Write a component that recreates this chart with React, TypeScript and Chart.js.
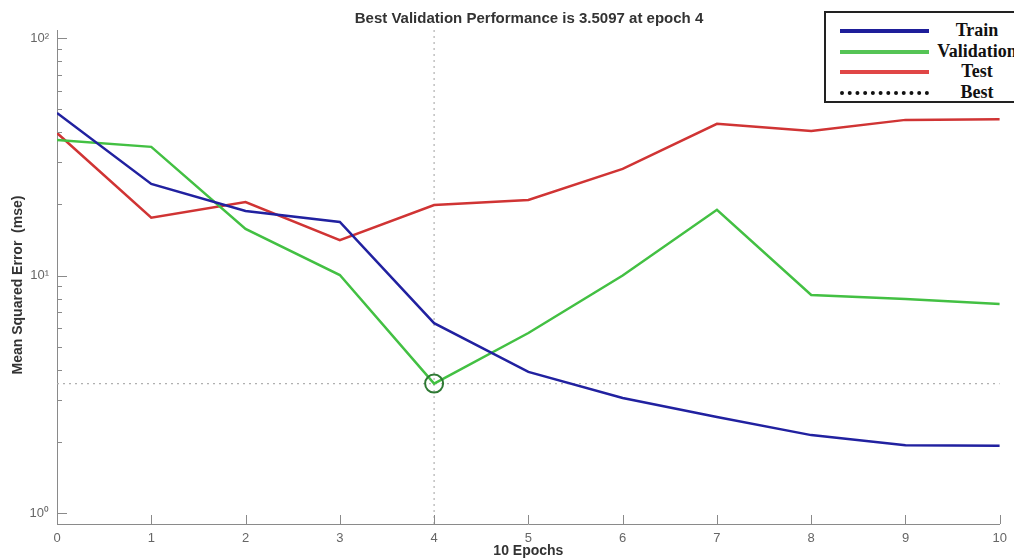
import React, { useEffect, useRef } from "react";
import { Chart, registerables } from "chart.js";

Chart.register(...registerables);

const epochs = [0, 1, 2, 3, 4, 5, 6, 7, 8, 9, 10];
const trainMse = [48.3, 24.3, 18.7, 16.8, 6.3, 3.93, 3.05, 2.54, 2.13, 1.93, 1.92];
const validationMse = [37.2, 34.8, 15.7, 10.05, 3.5097, 5.73, 10.0, 18.9, 8.28, 7.96, 7.59];
const testMse = [39.8, 17.5, 20.4, 14.1, 19.8, 20.8, 28.1, 43.5, 40.6, 45.2, 45.5];
const bestEpoch = 4;
const bestPerf = 3.5097;
const yMin = 0.9;
const yMax = 108;
const legendLabels = ["Train", "Validation", "Test", "Best"];
const titleText = "Best Validation Performance is 3.5097 at epoch 4";
const yTitleText = "Mean Squared Error  (mse)";

const AXIS_COLOR = "#8a8a8a";

const innerTicks = {
  id: "innerTicks",
  afterDraw(chart: any) {
    const { ctx, chartArea, scales } = chart;
    const ys = scales.y;
    const xs = scales.x;
    ctx.save();
    ctx.strokeStyle = AXIS_COLOR;
    ctx.lineWidth = 1;
    const decades = [0.1, 1, 10, 100];
    for (const d of decades) {
      for (let k = 1; k <= 9; k++) {
        const v = k * d;
        if (v < yMin || v > yMax) continue;
        const py = Math.round(ys.getPixelForValue(v)) + 0.5;
        const len = k === 1 ? 10 : 5;
        ctx.beginPath();
        ctx.moveTo(chartArea.left, py);
        ctx.lineTo(chartArea.left + len, py);
        ctx.stroke();
      }
    }
    for (const e of epochs) {
      const px = Math.round(xs.getPixelForValue(e)) + 0.5;
      ctx.beginPath();
      ctx.moveTo(px, chartArea.bottom);
      ctx.lineTo(px, chartArea.bottom - 9);
      ctx.stroke();
    }
    ctx.restore();
  },
};

function toPts(vals: number[]) {
  return epochs.map((e, i) => ({ x: e, y: vals[i] }));
}

export default function App() {
  const ref = useRef<HTMLCanvasElement | null>(null);

  useEffect(() => {
    if (!ref.current) return;
    const chart = new Chart(ref.current, {
      type: "line",
      data: {
        datasets: [
          {
            label: "BestCircle",
            data: [{ x: bestEpoch, y: bestPerf }],
            showLine: false,
            pointRadius: 9,
            pointBorderWidth: 2,
            pointBorderColor: "#2f7a34",
            pointBackgroundColor: "rgba(0,0,0,0)",
            order: 0,
          },
          {
            label: "Train",
            data: toPts(trainMse),
            borderColor: "#2121a0",
            borderWidth: 2.5,
            pointRadius: 0,
            order: 1,
          },
          {
            label: "Validation",
            data: toPts(validationMse),
            borderColor: "#43c043",
            borderWidth: 2.5,
            pointRadius: 0,
            order: 2,
          },
          {
            label: "Test",
            data: toPts(testMse),
            borderColor: "#d03434",
            borderWidth: 2.5,
            pointRadius: 0,
            order: 3,
          },
          {
            label: "BestV",
            data: [
              { x: bestEpoch, y: yMin },
              { x: bestEpoch, y: yMax },
            ],
            borderColor: "#b0b0b0",
            borderWidth: 1.2,
            borderDash: [2, 4],
            pointRadius: 0,
            order: 4,
          },
          {
            label: "BestH",
            data: [
              { x: 0, y: bestPerf },
              { x: 10, y: bestPerf },
            ],
            borderColor: "#b0b0b0",
            borderWidth: 1.2,
            borderDash: [2, 4],
            pointRadius: 0,
            order: 5,
          },
        ],
      },
      options: {
        responsive: false,
        animation: false,
        layout: { padding: { top: 30, right: 13, left: 0, bottom: 0 } },
        plugins: {
          legend: { display: false },
          title: { display: false },
          tooltip: { enabled: false },
        },
        scales: {
          x: {
            type: "linear",
            min: 0,
            max: 10,
            grid: { display: false, drawTicks: false },
            border: { display: true, color: AXIS_COLOR, width: 1 },
            ticks: {
              stepSize: 1,
              autoSkip: false,
              padding: 7,
              color: "#666",
              font: { family: "'Liberation Sans', Arial, sans-serif", size: 13 },
            },
            title: {
              display: true,
              text: "10 Epochs",
              color: "#333",
              padding: { top: 0, bottom: 0 },
              font: { family: "'Liberation Sans', Arial, sans-serif", size: 14, weight: "bold" },
            },
            afterFit(scale: any) {
              scale.height = 36;
            },
          },
          y: {
            type: "logarithmic",
            min: yMin,
            max: yMax,
            grid: { display: false, drawTicks: false },
            border: { display: true, color: AXIS_COLOR, width: 1 },
            ticks: {
              autoSkip: false,
              padding: 8,
              color: "#666",
              font: { family: "'Liberation Sans', Arial, sans-serif", size: 13 },
              callback: (v: any) => {
                const n = Number(v);
                const l = Math.log10(n);
                if (Math.abs(l - Math.round(l)) < 1e-9) {
                  const p = Math.round(l);
                  const sup = p === 0 ? "\u2070" : p === 1 ? "\u00b9" : p === 2 ? "\u00b2" : String(p);
                  return "10" + sup;
                }
                return "";
              },
            },
            afterFit(scale: any) {
              scale.width = 57;
            },
          },
        },
      },
      plugins: [innerTicks],
    } as any);
    return () => chart.destroy();
  }, []);

  const legendColors = ["#1e1e9a", "#55c455", "#e04646"];

  return (
    <div
      style={{
        position: "fixed",
        left: 0,
        top: 0,
        width: 1014,
        height: 560,
        overflow: "hidden",
        background: "#fff",
      }}
    >
      <canvas ref={ref} width={1014} height={560} style={{ position: "absolute", left: 0, top: 0 }} />
      <div
        style={{
          position: "absolute",
          left: 57,
          width: 944,
          top: 9,
          textAlign: "center",
          fontFamily: "'Liberation Sans', Arial, sans-serif",
          fontWeight: "bold",
          fontSize: 15,
          color: "#333",
          lineHeight: "18px",
        }}
      >
        {titleText}
      </div>
      <div
        style={{
          position: "absolute",
          left: 17 - 150,
          top: 285 - 9,
          width: 300,
          height: 18,
          lineHeight: "18px",
          textAlign: "center",
          transform: "rotate(-90deg)",
          transformOrigin: "150px 9px",
          fontFamily: "'Liberation Sans', Arial, sans-serif",
          fontWeight: "bold",
          fontSize: 14,
          color: "#333",
          whiteSpace: "pre",
        }}
      >
        {yTitleText}
      </div>
      <div
        style={{
          position: "absolute",
          left: 824,
          top: 11,
          width: 220,
          height: 92,
          border: "2px solid #222",
          background: "#fff",
          boxSizing: "border-box",
        }}
      >
        {legendLabels.map((lab, i) => (
          <div
            key={lab}
            style={{
              position: "absolute",
              left: 0,
              top: 8 + i * 20.5,
              height: 20,
              width: 220,
            }}
          >
            <div
              style={{
                position: "absolute",
                left: 14,
                width: 89,
                top: 8,
                height: 0,
                borderTop: i < 3 ? `4px solid ${legendColors[i]}` : "4px dotted #111",
              }}
            />
            <div
              style={{
                position: "absolute",
                left: 110,
                width: 82,
                top: -2,
                textAlign: "center",
                whiteSpace: "nowrap",
                fontFamily: "'Liberation Serif', 'Times New Roman', serif",
                fontWeight: "bold",
                fontSize: 18,
                color: "#111",
                lineHeight: "22px",
              }}
            >
              {lab}
            </div>
          </div>
        ))}
      </div>
    </div>
  );
}
